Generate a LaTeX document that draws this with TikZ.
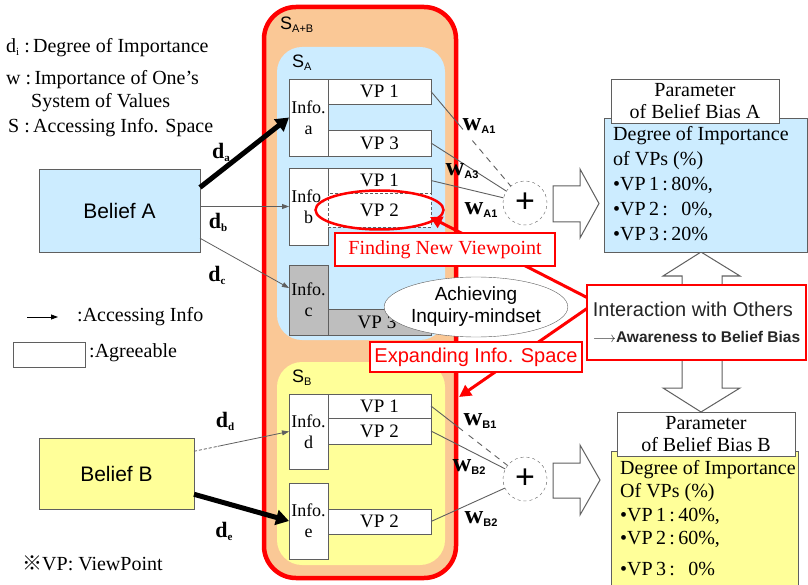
\documentclass[tikz,border=0pt]{standalone}
\usepackage{fontspec}
\setmainfont{Liberation Serif}
\setsansfont{Liberation Sans}
\newfontfamily\markfont{Noto Sans CJK JP}
\usetikzlibrary{arrows.meta, positioning, calc, shapes.geometric}
\definecolor{peach}{RGB}{250,200,150}
\definecolor{skyfill}{RGB}{204,236,255}
\definecolor{lemon}{RGB}{255,255,153}
\definecolor{infogray}{RGB}{190,190,190}
\definecolor{edgegray}{RGB}{95,95,95}
\newcommand{\lowidx}[1]{\raisebox{-0.3ex}{\fontsize{11pt}{11pt}\selectfont #1}}

\begin{document}
\begin{tikzpicture}[x=1pt, y=-1pt,
  box/.style={draw=edgegray, fill=white, inner sep=0pt, outer sep=0pt, anchor=north west, align=center},
  infocell/.style={box, minimum width=39pt, font=\fontsize{18pt}{21pt}\selectfont},
  vpcell/.style={box, minimum width=103pt, minimum height=25pt, font=\fontsize{19pt}{21pt}\selectfont},
  container/.style={anchor=north west, inner sep=0pt, outer sep=0pt},
  slabel/.style={anchor=west, inner sep=0pt, font=\sffamily\fontsize{18pt}{20pt}\selectfont},
  belief/.style={draw=edgegray, anchor=north west, inner sep=0pt, outer sep=0pt, font=\sffamily\fontsize{21pt}{24pt}\selectfont},
  legend/.style={anchor=west, inner sep=0pt, font=\fontsize{20pt}{22pt}\selectfont},
  dlabel/.style={inner sep=0pt, font=\bfseries\fontsize{22pt}{22pt}\selectfont},
  wlabel/.style={inner sep=0pt, font=\bfseries\fontsize{26pt}{26pt}\selectfont},
  access/.style={edgegray, line width=0.8pt, -{Triangle[length=7pt,width=5pt]}},
  heavy/.style={line width=5pt, -{Triangle[length=13pt,width=15pt]}},
  wline/.style={edgegray, line width=0.9pt},
  plus/.style={circle, draw=edgegray, dashed, fill=white, minimum size=44pt, inner sep=0pt, font=\sffamily\fontsize{34pt}{34pt}\selectfont},
  bigarrow/.style={draw=edgegray, fill=white, line width=1pt},
  parambox/.style={draw=edgegray, anchor=north west, inner sep=0pt, outer sep=0pt},
  paramtext/.style={anchor=north west, inner sep=0pt, align=left},
  redbox/.style={draw=red, line width=2pt, fill=white, anchor=north west, inner sep=0pt, outer sep=0pt},
  redlink/.style={red, line width=3pt, -{Triangle[length=12pt,width=12pt]}}]
  \useasboundingbox (0,0) rectangle (808,585);

  % legend
  \node[legend] (legd) at (6,48) {d\lowidx{i} :\,Degree of Importance};
  \node[legend] (legw) at (6,80) {w :\,Importance of One's};
  \node[legend] (legw2) at (31,103) {System of Values};
  \node[legend] (legs) at (8,128) {S :\,Accessing Info. Space};
  \coordinate (keytail) at (27,317);
  \coordinate (keyhead) at (58,317);
  \draw[access, black] (keytail) -- (keyhead);
  \node[legend] (legacc) at (77,317) {:Accessing Info};
  \node[box, minimum width=72pt, minimum height=25pt] (legbox) at (13,342) {};
  \node[legend] (legagree) at (89,353) {:Agreeable};
  \node[legend] (vpnote) at (22,563) {{\markfont ※}VP: ViewPoint};

  % info spaces
  \node[container, draw=red, line width=4.5pt, fill=peach, rounded corners=32pt,
        minimum width=192pt, minimum height=571pt] (sab) at (264,7) {};
  \node[slabel] (sablabel) at (280,25) {S\lowidx{A+B}};
  \node[container, fill=skyfill, rounded corners=25pt, minimum width=168pt, minimum height=293pt] (sa) at (277,47) {};
  \node[slabel] (salabel) at (292,63) {S\lowidx{A}};
  \node[container, fill=lemon, rounded corners=25pt, minimum width=168pt, minimum height=203pt] (sb) at (277,362) {};
  \node[slabel] (sblabel) at (292,378) {S\lowidx{B}};

  % info and viewpoints
  \node[infocell, minimum height=77pt] (infoa) at (289,79) {Info.\\a};
  \node[vpcell] (vpa1) at (328,79) {VP 1};
  \node[vpcell, minimum height=26pt] (vpa3) at (328,130) {VP 3};
  \node[infocell, minimum height=77pt] (infob) at (289,168) {Info.\\b};
  \node[vpcell] (vpb1) at (328,168) {VP 1};
  \node[vpcell, dashed, dash pattern=on 3pt off 2pt, minimum height=34pt] (vpb2) at (328,193) {VP 2};
  \node[infocell, fill=infogray, minimum height=70pt] (infoc) at (289,265) {Info.\\c};
  \node[vpcell, fill=infogray, minimum height=26pt] (vpc3) at (328,309) {VP 3\hspace{5pt}};
  \node[infocell, minimum height=75pt] (infod) at (289,394) {Info.\\d};
  \node[vpcell, minimum height=24pt] (vpd1) at (328,394) {VP 1};
  \node[vpcell, minimum height=26pt] (vpd2) at (328,418) {VP 2};
  \node[infocell, minimum height=76pt] (infoe) at (289,483) {Info.\\e};
  \node[vpcell] (vpe2) at (328,509) {VP 2};

  % beliefs
  \node[belief, fill=skyfill, minimum width=161pt, minimum height=83pt] (beliefA) at (39,169) {Belief A};
  \node[belief, fill=lemon, minimum width=155pt, minimum height=71pt] (beliefB) at (39,438) {Belief B};
  \draw[heavy] (beliefA.16) -- (infoa.west);
  \draw[access] (beliefA.east |- infob.west) -- (infob.west);
  \draw[access] (beliefA.-19) -- ([yshift=12pt]infoc.west);
  \coordinate (ddsplit) at ($(beliefB.16)!0.25!(infod.west)$);
  \draw[edgegray, line width=0.8pt, dashed, dash pattern=on 3pt off 2pt] (beliefB.16) -- (ddsplit);
  \draw[access] (ddsplit) -- (infod.west);
  \draw[heavy] (beliefB.-15) -- (infoe.west);
  \node[dlabel] (da) at (221,152) {d\lowidx{a}};
  \node[dlabel] (db) at (218,222) {d\lowidx{b}};
  \node[dlabel] (dc) at (217,275) {d\lowidx{c}};
  \node[dlabel] (dd) at (225,421) {d\lowidx{d}};
  \node[dlabel] (de) at (224,531) {d\lowidx{e}};

  % weighted sums
  \node[plus] (plusA) at (525,203) {+};
  \node[plus] (plusB) at (525,479) {+};
  \draw[wline] (vpa1.east) -- ($(vpa1.east)!0.34!(plusA)$);
  \draw[wline, dashed, dash pattern=on 6pt off 5pt] ($(vpa1.east)!0.44!(plusA)$) -- (plusA);
  \draw[wline] (vpa3.east) -- (plusA);
  \draw[wline] (vpb1.east) -- (plusA);
  \draw[wline] (vpd1.east) -- ($(vpd1.east)!0.34!(plusB)$);
  \draw[wline, dashed, dash pattern=on 6pt off 5pt] ($(vpd1.east)!0.4!(plusB)$) -- (plusB);
  \draw[wline] (vpd2.east) -- (plusB);
  \draw[wline] (vpe2.east) -- (plusB);
  \node[wlabel] (wa1) at (479,126) {w\lowidx{\sffamily A1}};
  \node[wlabel] (wa3) at (462,171) {w\lowidx{\sffamily A3}};
  \node[wlabel] (wa1b) at (481,210) {w\lowidx{\sffamily A1}};
  \node[wlabel] (wb1) at (480,421) {w\lowidx{\sffamily B1}};
  \node[wlabel] (wb2) at (469,467) {w\lowidx{\sffamily B2}};
  \node[wlabel] (wb2b) at (481,519) {w\lowidx{\sffamily B2}};

  % block arrows
  \draw[bigarrow] (553,186) -- (580,186) -- (580,169) -- (599,203.5) -- (580,238) -- (580,222) -- (553,222) -- cycle;
  \draw[bigarrow] (553,463) -- (580,463) -- (580,445) -- (600,480) -- (580,515) -- (580,498) -- (553,498) -- cycle;
  \draw[bigarrow] (682,292) -- (682,276) -- (663,276) -- (701,252) -- (740,276) -- (722,276) -- (722,292) -- cycle;
  \draw[bigarrow] (682,352) -- (682,388) -- (663,388) -- (701,412) -- (740,388) -- (722,388) -- (722,352) -- cycle;

  % parameters of belief bias
  \node[parambox, fill=skyfill, minimum width=203pt, minimum height=134pt] (paramA) at (604,118) {};
  \node[paramtext, font=\fontsize{20pt}{25pt}\selectfont] (weightsA) at (613,126)
    {Degree of Importance\\of VPs (\%)\\•VP\,1\,:\,80\%,\\•VP\,2\,:\,\phantom{8}0\%,\\•VP\,3\,:\,20\%};
  \node[parambox, fill=white, minimum width=168pt, minimum height=44pt, align=center,
        font=\fontsize{20pt}{22pt}\selectfont] (headA) at (611,79) {Parameter\\of Belief Bias A};
  \node[parambox, fill=lemon, minimum width=187pt, minimum height=134pt] (paramB) at (611,451) {};
  \node[paramtext, font=\fontsize{20pt}{23.5pt}\selectfont] (weightsB) at (620,460)
    {Degree of Importance\\Of VPs (\%)\\•VP\,1\,:\,40\%,\\•VP\,2\,:\,60\%,\\[7pt]•VP\,3\,:\,\phantom{4}0\%};
  \node[parambox, fill=white, minimum width=178pt, minimum height=44pt, align=center,
        font=\fontsize{20pt}{22pt}\selectfont] (headB) at (617,412) {Parameter\\of Belief Bias B};

  % interaction and its effects
  \node[redbox, minimum width=219pt, minimum height=75pt, align=left, text=black!85,
        font=\sffamily\fontsize{20pt}{26pt}\selectfont] (interact) at (587,285)
    {Interaction with Others\\\bfseries\fontsize{15.5pt}{18pt}\selectfont$\longrightarrow$Awareness to Belief Bias};
  \coordinate (sbedge) at ($(sab.east |- vpd1.north)+(3,3)$);
  \draw[redlink] ([yshift=25pt]interact.west) -- ([xshift=-1pt,yshift=-7pt]vpb2.east);
  \draw[redlink] ([yshift=14pt]interact.west) -- (sbedge);
  \node[ellipse, draw=red, line width=2.5pt, minimum width=128pt, minimum height=39pt] (newvp) at (vpb2) {};
  \node[redbox, minimum width=220pt, minimum height=33pt, text=red,
        font=\fontsize{20pt}{22pt}\selectfont] (findvp) at (335,233) {Finding New Viewpoint};
  \node[ellipse, draw=edgegray, fill=white, minimum width=156pt, minimum height=60pt, inner sep=0pt,
        align=center, font=\sffamily\fontsize{19pt}{22pt}\selectfont] (mindset) at (476,307) {Achieving\\Inquiry-mindset};
  \node[redbox, minimum width=212pt, minimum height=30pt, text=red,
        font=\sffamily\fontsize{20pt}{22pt}\selectfont] (expand) at (370,342) {Expanding Info. Space};
\end{tikzpicture}
\end{document}
